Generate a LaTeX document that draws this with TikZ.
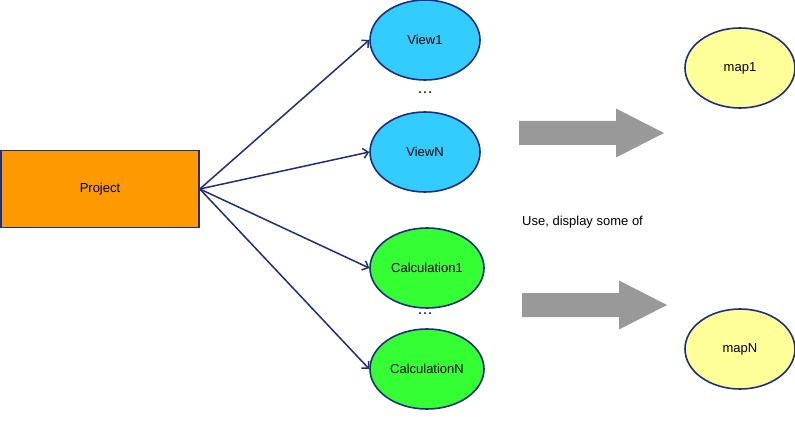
\documentclass[tikz,border=0pt]{standalone}
\usepackage{fontspec}
\setmainfont{Liberation Sans}
\usetikzlibrary{shapes.geometric,arrows.meta}
\definecolor{edgeblue}{RGB}{30,45,128}
\definecolor{viewblue}{RGB}{51,204,255}
\definecolor{projorange}{RGB}{255,153,0}
\definecolor{calcgreen}{RGB}{51,255,51}
\definecolor{mapyellow}{RGB}{255,255,153}
\definecolor{bigarrow}{RGB}{153,153,153}
\tikzset{
    blob/.style={ellipse,draw=edgeblue,line width=1.6pt,inner sep=0pt,
        minimum width=110pt,minimum height=80pt,font=\fontsize{13}{15}\selectfont},
    link/.style={draw=edgeblue,line width=1.5pt,-{Straight Barb[length=5pt,width=10pt]}}
}
\begin{document}
\begin{tikzpicture}[x=1pt,y=-1pt]
        \useasboundingbox (0,0) rectangle (795,425);
        
        \pgfmathsetmacro{\shaftw}{12};
        \pgfmathsetmacro{\headw}{24.5};
        
        \node (project) at (100,189) [draw=edgeblue,line width=1.6pt,fill=projorange,
            minimum width=198pt,minimum height=77pt,font=\fontsize{13}{15}\selectfont] {Project};
        
        \node (view1) at (425,40) [blob,fill=viewblue] {View1};
        \node (viewN) at (425,152) [blob,fill=viewblue] {ViewN};
        \node (calc1) at (427,268) [blob,fill=calcgreen,minimum width=114pt] {Calculation1};
        \node (calcN) at (427,369) [blob,fill=calcgreen,minimum width=114pt] {CalculationN};
        
        \node (map1) at (740,68) [blob,fill=mapyellow] {map1};
        \node (mapN) at (740,349) [blob,fill=mapyellow] {mapN};
        
        \node (dots1) at (425,93) {\fontsize{16}{16}\selectfont\dots};
        \node (dots2) at (425,314) {\fontsize{16}{16}\selectfont\dots};
        
        \draw [link] (project.east) -- (view1.west);
        \draw [link] (project.east) -- (viewN.west);
        \draw [link] (project.east) -- (calc1.west);
        \draw [link] (project.east) -- (calcN.west);
        
        % big grey arrows
        \fill [bigarrow] (519,133-\shaftw) -- ++(97,0) -- (616,133-\headw) -- (664,133)
            -- (616,133+\headw) -- (616,133+\shaftw) -- (519,133+\shaftw) -- cycle;
        \fill [bigarrow] (522,305-\shaftw) -- ++(97,0) -- (619,305-\headw) -- (667,305)
            -- (619,305+\headw) -- (619,305+\shaftw) -- (522,305+\shaftw) -- cycle;
        
        \node (use) at (522,222) [anchor=west,inner sep=0pt,font=\fontsize{13}{15}\selectfont] {Use, display some of};
    
    \end{tikzpicture}
\end{document}
